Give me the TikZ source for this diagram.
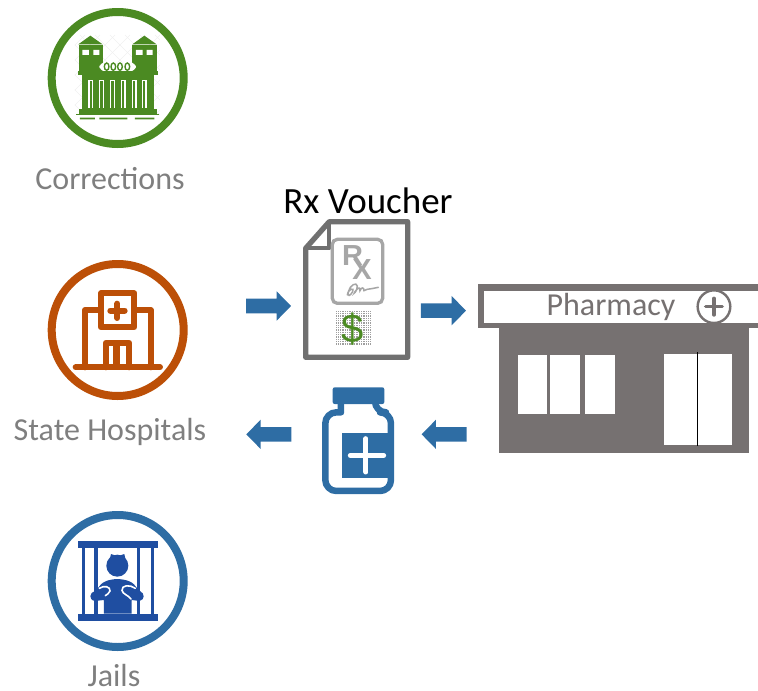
\documentclass[tikz,border=0pt]{standalone}
\usepackage{fontspec}
\setmainfont{Carlito}
\newfontfamily\arialish{Liberation Sans}
\definecolor{cgreen}{HTML}{4B8A22}
\definecolor{corange}{HTML}{BC4F07}
\definecolor{cblue}{HTML}{2E6DA4}
\definecolor{cnavy}{HTML}{1F4EA1}
\definecolor{cshop}{HTML}{767171}
\definecolor{ctext}{HTML}{7F7F7F}
\definecolor{cdoc}{HTML}{707070}
\definecolor{ccard}{HTML}{A6A6A6}
\tikzset{
  ring/.style={circle,draw,line width=8pt,minimum size=132pt,inner sep=0pt},
  labeltext/.style={text=ctext,anchor=base,inner sep=0pt,font=\fontsize{32}{38}\selectfont},
  zoomed/.style={x=0.3333pt,y=-0.3333pt},
  hosp/.style={draw=corange,line width=6pt,line join=round,line cap=round},
  bararrow/.style={fill=cblue,draw=none},
  armline/.style={white,line width=1.6pt,line cap=round}
}
\newcommand{\arrowright}[2]{\fill[bararrow] (#1,#2-22) -- (#1+92,#2-22) -- (#1+92,#2-44) -- (#1+135,#2) -- (#1+92,#2+44) -- (#1+92,#2+22) -- (#1,#2+22) -- cycle;}
\newcommand{\arrowleft}[2]{\fill[bararrow] (#1,#2-22) -- (#1-92,#2-22) -- (#1-92,#2-44) -- (#1-135,#2) -- (#1-92,#2+44) -- (#1-92,#2+22) -- (#1,#2+22) -- cycle;}
\begin{document}
\begin{tikzpicture}[x=1pt,y=-1pt]
\useasboundingbox (0,0) rectangle (758,691);
% rings
\node[ring,draw=cgreen] (corr) at (117.7,78) {};
\node[ring,draw=corange] (hosp) at (117.7,330) {};
\node[ring,draw=cblue] (jail) at (117.7,581) {};
% labels
\node[labeltext] (lcorr) at (110,189) {Corrections};
\node[labeltext] (lhosp) at (110,440) {State Hospitals};
\node[labeltext] (ljail) at (114,686.5) {Jails};
\node[anchor=base,inner sep=0pt,font=\fontsize{37}{44}\selectfont] (lvoucher) at (368,213) {Rx Voucher};

% prison
\begin{scope}[shift={(30,0)},zoomed]
  \begin{scope}
    \clip (135,105) rectangle (390,345);
    \foreach \k in {-300,-255,...,600}{
      \draw[black!6,line width=0.5pt] (\k,105) -- (\k+240,345);
      \draw[black!6,line width=0.5pt] (\k+240,105) -- (\k,345);
    }
  \end{scope}
  \fill[cgreen] (145,133) -- (181,107) -- (218,133) -- cycle;
  \fill[cgreen] (147,136) rectangle (218,207);
  \fill[cgreen] (307,133) -- (343,107) -- (380,133) -- cycle;
  \fill[cgreen] (307,136) rectangle (380,207);
  \fill[white] (157,150) rectangle (177,165) (190,150) rectangle (208,165);
  \fill[white] (318,150) rectangle (338,165) (350,150) rectangle (368,165);
  \fill[cgreen] (147,207) rectangle (380,212);
  \fill[white,rounded corners=6pt] (208,187) rectangle (318,214);
  \foreach \cx in {230,250,270,292}
    \draw[cgreen,line width=1.4pt,fill=white] (\cx,200) ellipse (7 and 11);
  \fill[cgreen] (143,212) rectangle (383,226);
  \fill[cgreen] (155,226) rectangle (372,328);
  \foreach \cx in {175,207,240,272,305,335}
    \fill[white] (\cx,240) rectangle (\cx+15,325);
  \foreach \cx in {179,211,244,276,309,339}
    \fill[cgreen] (\cx,244) rectangle (\cx+7,325);
  \fill[cgreen] (147,328) rectangle (380,341);
  \fill[cgreen] (138,341) rectangle (388,344);
  \fill[cgreen] (150,353) rectangle (195,358) (208,353) rectangle (292,358) (315,353) rectangle (373,358);
\end{scope}

% hospital
\begin{scope}[shift={(30,250)},zoomed]
  \draw[hosp] (165,352) -- (165,180) -- (213,180);
  \draw[hosp] (313,180) -- (362,180) -- (362,352);
  \draw[hosp] (213,130) rectangle (313,232);
  \draw[hosp] (241,182) -- (284,182);
  \draw[hosp] (262,161) -- (262,204);
  \draw[hosp] (137,352) -- (390,352);
  \draw[hosp] (227,352) -- (227,279) -- (298,279) -- (298,352);
  \draw[hosp,line width=7pt,line cap=butt] (261,279) -- (261,352);
\end{scope}

% jail
\begin{scope}[shift={(30,505)},zoomed]
  \fill[cnavy] (145,108) rectangle (384,130);
  \fill[cnavy] (145,326) rectangle (384,348);
  \foreach \bx in {155,193,320,362}
    \fill[cnavy] (\bx,130) rectangle (\bx+11,326);
  \fill[cnavy] (262,182) circle[radius=33];
  \fill[cnavy] (240,160) -- (243,147) -- (258,152) -- (268,152) -- (283,147) -- (286,160) -- cycle;
  \fill[cnavy] (222,326) -- (222,285) -- (195,288) .. controls (175,285) and (178,262) .. (195,258) .. controls (210,250) and (205,225) .. (262,222) .. controls (320,225) and (315,250) .. (330,258) .. controls (345,265) and (345,285) .. (328,288) -- (305,285) -- (305,326) -- cycle;
  \draw[armline] (208,250) .. controls (222,240) and (242,245) .. (240,258) .. controls (238,266) and (230,268) .. (226,272);
  \draw[armline] (316,250) .. controls (300,238) and (274,240) .. (276,256) .. controls (278,268) and (295,270) .. (303,282);
\end{scope}

% voucher
\begin{scope}[shift={(240,180)},zoomed]
  \draw[cdoc,line width=5.3pt,line join=round,fill=white] (197,205) -- (268,125) -- (503,125) -- (503,532) -- (197,532) -- cycle;
  \draw[cdoc,line width=4pt,line join=round] (197,205) -- (268,205) -- (268,125);
  \draw[ccard,line width=3.3pt,rounded corners=5pt] (277,178) rectangle (428,370);
  \node[anchor=center,inner sep=0pt,text=ccard,font=\arialish\fontsize{29}{29}\selectfont\bfseries] (rxr) at (338,226) {R};
  \node[anchor=center,inner sep=0pt,text=ccard,font=\arialish\fontsize{29}{29}\selectfont\bfseries] (rxx) at (366,270) {X};
  \draw[ccard,line width=1.5pt,line cap=round] (322,345) .. controls (325,325) and (345,322) .. (338,335) .. controls (330,350) and (322,350) .. (325,335) .. controls (330,315) and (350,305) .. (352,318) .. controls (352,335) and (338,345) .. (345,335) .. controls (355,320) and (362,322) .. (360,332) .. controls (365,320) and (372,322) .. (372,332) .. controls (378,325) and (385,330) .. (395,326) -- (415,322);
  \fill[black!38] (287,393) rectangle (392,498);
  \foreach \k in {291,298,...,392}
    \draw[white,line width=0.8pt] (\k,393) -- (\k,498);
  \foreach \k in {397,404,...,498}
    \draw[white,line width=0.8pt] (287,\k) -- (392,\k);
  \node[anchor=center,inner sep=0pt,text=cgreen,font=\arialish\fontsize{40}{40}\selectfont] (dollar) at (339,446) {\$};
\end{scope}

% bottle
\begin{scope}[shift={(240,380)},zoomed]
  \fill[cblue,rounded corners=2pt] (278,22) rectangle (433,72);
  \draw[cblue,line width=6.5pt,rounded corners=11pt,line join=round] (303,66) [sharp corners] -- (303,97) [rounded corners=11pt] -- (256,97) -- (256,333) -- (453,333) -- (453,97) -- (405,97) [sharp corners] -- (405,66);
  \fill[cblue] (305,158) rectangle (458,295);
  \draw[white,line width=5pt,line cap=round] (331,226) -- (431,226);
  \draw[white,line width=5pt,line cap=round] (378,176) -- (378,276);
\end{scope}

% pharmacy
\begin{scope}[shift={(470,275)},zoomed]
  \fill[cshop] (24,28) rectangle (864,160);
  \fill[white] (42,47) rectangle (864,143);
  \fill[cshop] (86,160) rectangle (836,533);
  \fill[white] (143,240) rectangle (232,416);
  \fill[white] (240,240) rectangle (329,416);
  \fill[white] (346,240) rectangle (436,416);
  \fill[white] (581,236) rectangle (785,509);
  \draw[black,line width=1pt] (683,232) -- (683,513);
  \node[anchor=base,inner sep=0pt,text=cshop,font=\fontsize{32}{38}\selectfont] (lpharm) at (423,120) {Pharmacy};
  \draw[cshop,line width=2.4pt] (732,95) circle[radius=49];
  \draw[cshop,line width=3.4pt,line cap=round] (707,95) -- (757,95);
  \draw[cshop,line width=3.4pt,line cap=round] (732,70) -- (732,120);
\end{scope}

% block arrows
\begin{scope}[shift={(240,180)},zoomed]
  \arrowright{18}{378}
  \arrowright{543}{392}
\end{scope}
\begin{scope}[shift={(240,380)},zoomed]
  \arrowleft{154}{163}
  \arrowleft{680}{163}
\end{scope}
\end{tikzpicture}
\end{document}
